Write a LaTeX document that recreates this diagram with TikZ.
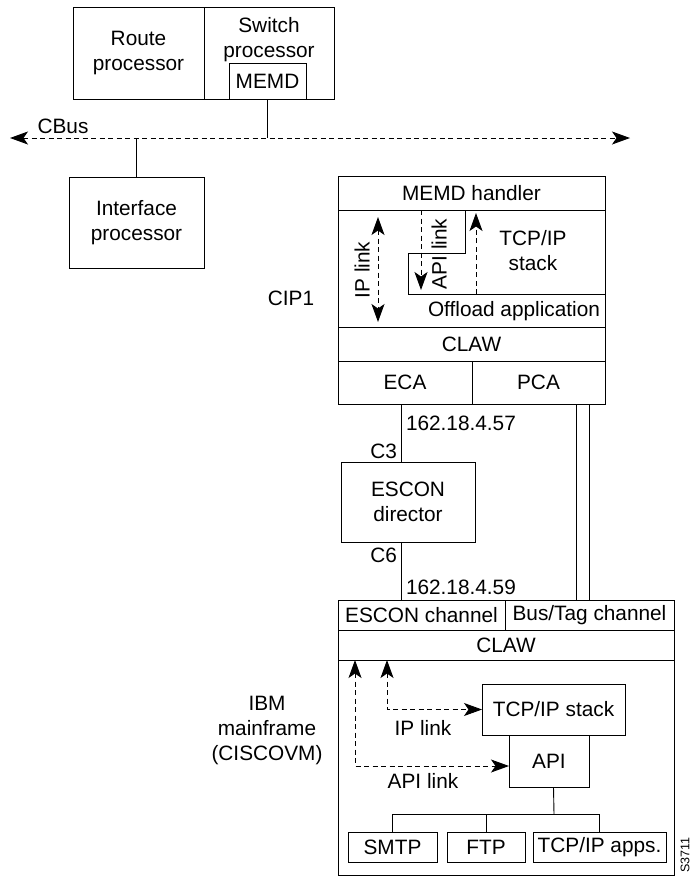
\documentclass[tikz,border=0pt]{standalone}
\usepackage{fontspec}
\setmainfont{Liberation Sans}
\usetikzlibrary{arrows.meta,calc}
\begin{document}
\begin{tikzpicture}[x=1pt,y=-1pt,
  every node/.style={font=\fontsize{20.8}{25}\selectfont, inner sep=0pt, outer sep=0pt, align=center},
  box/.style={draw, line width=0.9pt},
  ln/.style={line width=0.9pt},
  dsh/.style={line width=0.9pt, dash pattern=on 5pt off 3.5pt},
  >={Stealth[length=18pt,width=13pt,inset=4.5pt]},
  endarr/.style={->},
  botharr/.style={<->},
  small/.style={font=\fontsize{12.5}{15}\selectfont}]
\useasboundingbox (0,0) rectangle (694,879);

% ---- top: route / switch processor ----
\node[box,minimum width=131pt,minimum height=92pt] (rp) at (138.5,53) {Route\\processor};
\node[box,minimum width=130pt,minimum height=92pt] (sp) at (269,53) {};
\node (sptext) at (269,39.5) {Switch\\processor};
\node[box,minimum width=77pt,minimum height=36pt] (memd) at (267.5,81) {MEMD};

% ---- CBus ----
\coordinate (busL) at (10,138);
\coordinate (busR) at (630,138);
\draw[dsh,botharr] (busL) -- (busR);
\node (cbus) at (63,126) {CBus};
\draw[ln] (memd.south) -- (memd.south |- busL);

\node[box,minimum width=135pt,minimum height=91pt] (ip) at (136.5,222.5) {Interface\\processor};
\draw[ln] (ip.north |- busL) -- (ip.north);

% ---- CIP1 ----
\node[box,minimum width=267pt,minimum height=228pt] (cip) at (471.5,290) {};
\node[box,minimum width=267pt,minimum height=34pt] (mh) at (471.5,193) {MEMD handler};
\node[box,minimum width=267pt,minimum height=34pt] (claw1) at (471.5,344) {CLAW};
\node[box,minimum width=134pt,minimum height=43pt] (eca) at (405,382.5) {ECA};
\node[box,minimum width=133pt,minimum height=43pt] (pca) at (538.5,382.5) {PCA};
\coordinate (st1) at (465,253);
\coordinate (st2) at (408,294);
\draw[ln] (mh.south -| st1) -- (st1) -- (st1 -| st2) -- (st2) -- (st2 -| cip.east);
\node (tcp1) at (533,251) {TCP/IP\\stack};
\node (off) at (514,311) {Offload application};
\node (cip1lbl) at (291,298) {CIP1};

\coordinate (ipl1) at (378,217);
\coordinate (ipl2) at (378,322);
\draw[dsh,botharr] (ipl1) -- (ipl2);
\node[rotate=90] (ipltxt) at (362,270) {IP link};
\coordinate (apl1) at (421,210);
\coordinate (apl2) at (421,290);
\draw[dsh,endarr] (apl1) -- (apl2);
\node[rotate=90] (apltxt) at (439,254) {API link};
\coordinate (up1) at (476,294);
\coordinate (up2) at (476,213);
\draw[dsh,endarr] (up1) -- (up2);

% ---- ESCON director ----
\node[box,minimum width=134pt,minimum height=80pt] (dir) at (408,502) {ESCON\\director};

% ---- mainframe ----
\node[box,minimum width=336pt,minimum height=275pt] (mf) at (506,737.5) {};
\node[box,minimum width=167pt,minimum height=30pt] (esc) at (421.5,615) {ESCON channel};
\node[box,minimum width=169pt,minimum height=30pt] (bt) at (589.5,615) {Bus/Tag channel};
\node[box,minimum width=336pt,minimum height=30pt] (claw2) at (506,645) {CLAW};
\node[box,minimum width=143pt,minimum height=51pt] (tcp2) at (553.5,709.5) {TCP/IP stack};
\node[box,minimum width=80pt,minimum height=52pt] (api) at (549,761) {API};
\node[box,minimum width=89pt,minimum height=30pt] (smtp) at (392.5,847) {SMTP};
\node[box,minimum width=78pt,minimum height=30pt] (ftp) at (486,847) {FTP};
\node[box,minimum width=133pt,minimum height=30pt] (apps) at (599.5,847) {TCP/IP apps.};

% connections CIP1 -> director -> mainframe
\coordinate (cx) at (401,404);
\draw[ln] (eca.south -| cx) -- (dir.north -| cx);
\draw[ln] (dir.south -| cx) -- (esc.north -| cx);
\node[anchor=west] (a57) at (406,423) {162.18.4.57};
\node[anchor=east] (c3) at (397,451) {C3};
\node[anchor=east] (c6) at (397,555) {C6};
\node[anchor=west] (a59) at (406,587) {162.18.4.59};
\coordinate (bt1) at (576,404);
\coordinate (bt2) at (589,404);
\draw[ln] (pca.south -| bt1) -- (bt.north -| bt1);
\draw[ln] (pca.south -| bt2) -- (bt.north -| bt2);

% tree
\coordinate (tr) at (554,814);
\draw[ln] (tcp2.south |- api.south) -- (tr);
\draw[ln] (smtp.north) -- (smtp.north |- tr) -- (apps.north |- tr) -- (apps.north);
\draw[ln] (ftp.north) -- (ftp.north |- tr);

% dashed links in mainframe
\coordinate (ipa) at (387,660);
\draw[dsh,botharr] (ipa) |- (tcp2.west);
\coordinate (apia) at (355,660);
\draw[dsh,botharr] (apia) |- ([yshift=-5pt]api.west);
\node (iplk) at (423,728) {IP link};
\node (aplk) at (423,781) {API link};

\node (ibm) at (267,730) {IBM\\mainframe\\(CISCOVM)};
\node[small,rotate=90] (fig) at (685,855) {S3711};
\end{tikzpicture}
\end{document}
